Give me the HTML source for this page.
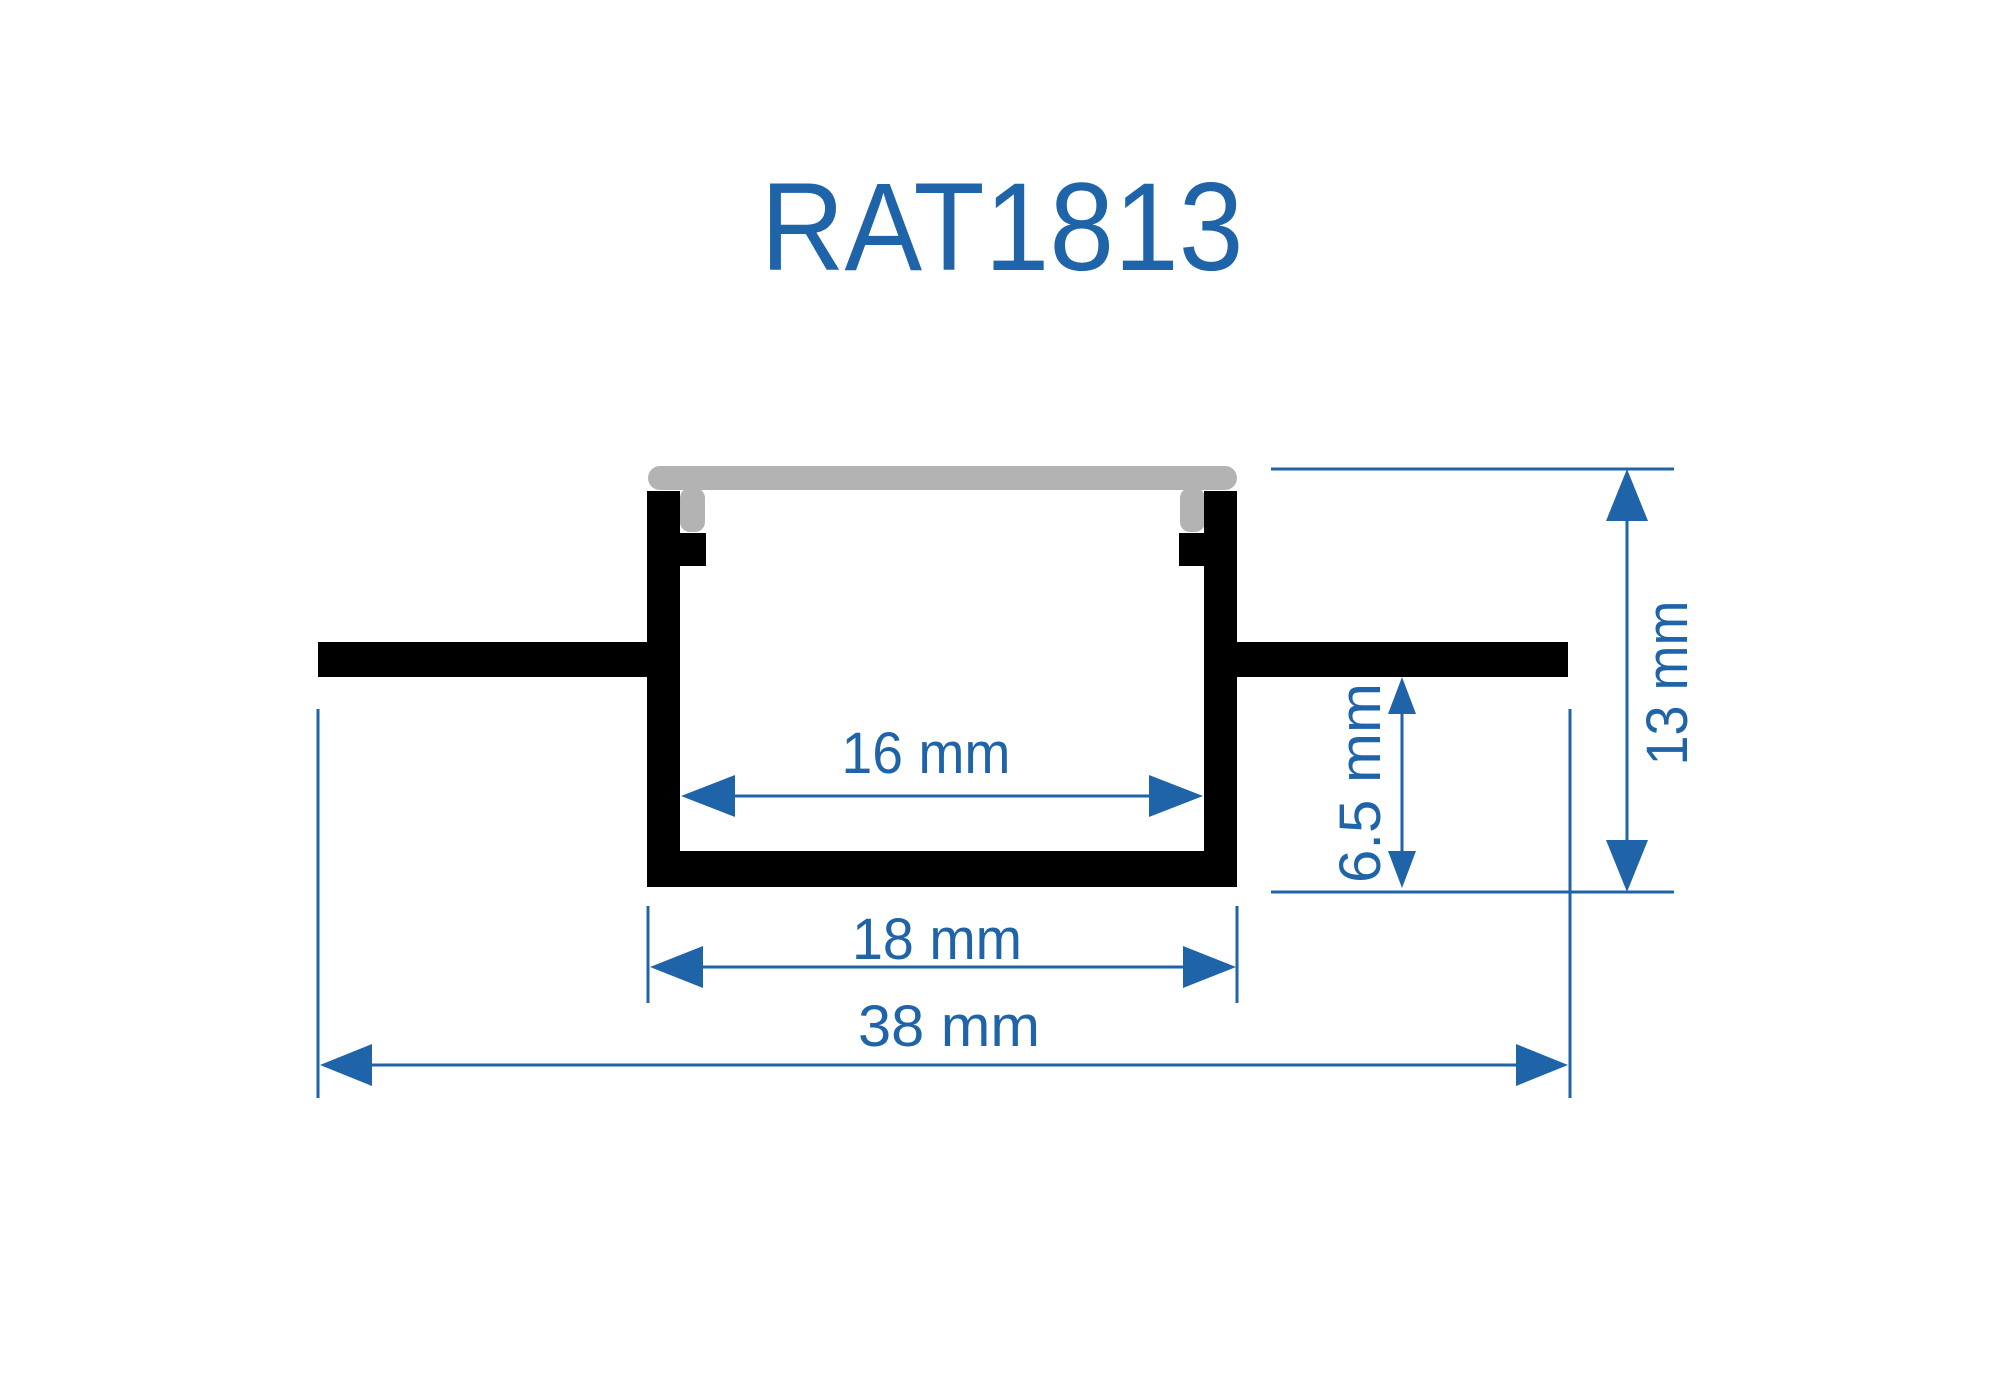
<!DOCTYPE html>
<html><head><style>html,body{margin:0;padding:0;background:#fff}svg{display:block}</style></head>
<body>
<svg width="2000" height="1400" viewBox="0 0 2000 1400" xmlns="http://www.w3.org/2000/svg">
<g font-family="Liberation Sans, sans-serif" fill="#1f64a8">
<text x="1002" y="270" font-size="125" text-anchor="middle" textLength="483" lengthAdjust="spacingAndGlyphs">RAT1813</text>
</g>
<!-- lens -->
<rect x="648" y="466" width="589" height="24" rx="12" fill="#b3b3b3"/>
<rect x="680" y="488" width="25" height="44" rx="10" fill="#b3b3b3"/>
<rect x="1180" y="488" width="25" height="44" rx="10" fill="#b3b3b3"/>
<!-- profile -->
<g fill="#000">
<rect x="647" y="491" width="33" height="396"/>
<rect x="1204" y="491" width="33" height="396"/>
<rect x="647" y="851" width="590" height="36"/>
<rect x="318" y="642" width="330" height="35"/>
<rect x="1236" y="642" width="332" height="35"/>
<rect x="679" y="533" width="27" height="33"/>
<rect x="1179" y="533" width="26" height="33"/>
</g>
<g stroke="#1f64a8" stroke-width="3" fill="none">
<line x1="1271" y1="469" x2="1674" y2="469"/>
<line x1="1271" y1="892" x2="1674" y2="892"/>
<line x1="1627" y1="500" x2="1627" y2="860"/>
<line x1="1402" y1="700" x2="1402" y2="870"/>
<line x1="318" y1="709" x2="318" y2="1098"/>
<line x1="1570" y1="709" x2="1570" y2="1098"/>
<line x1="648" y1="906" x2="648" y2="1003"/>
<line x1="1237" y1="906" x2="1237" y2="1003"/>
<line x1="700" y1="796" x2="1184" y2="796"/>
<line x1="670" y1="967" x2="1215" y2="967"/>
<line x1="340" y1="1065" x2="1548" y2="1065"/>
</g>
<g fill="#1f64a8">
<polygon points="1627,469 1606,521 1648,521"/>
<polygon points="1627,892 1606,840 1648,840"/>
<polygon points="1402,677 1388,714 1416,714"/>
<polygon points="1402,888 1388,851 1416,851"/>
<polygon points="681,796 735,775 735,817"/>
<polygon points="1203,796 1149,775 1149,817"/>
<polygon points="650,967 703,946 703,988"/>
<polygon points="1236,967 1183,946 1183,988"/>
<polygon points="320,1065 372,1044 372,1086"/>
<polygon points="1568,1065 1516,1044 1516,1086"/>
</g>
<g font-family="Liberation Sans, sans-serif" fill="#1f64a8" font-size="58">
<text x="926" y="773" text-anchor="middle" textLength="169" lengthAdjust="spacingAndGlyphs">16 mm</text>
<text x="937" y="959" text-anchor="middle" textLength="170" lengthAdjust="spacingAndGlyphs">18 mm</text>
<text x="949" y="1046" text-anchor="middle" textLength="182" lengthAdjust="spacingAndGlyphs">38 mm</text>
<text transform="translate(1687,683) rotate(-90)" text-anchor="middle" textLength="165" lengthAdjust="spacingAndGlyphs">13 mm</text>
<text transform="translate(1380,783) rotate(-90)" text-anchor="middle" textLength="200" lengthAdjust="spacingAndGlyphs">6.5 mm</text>
</g>
</svg>
</body></html>
